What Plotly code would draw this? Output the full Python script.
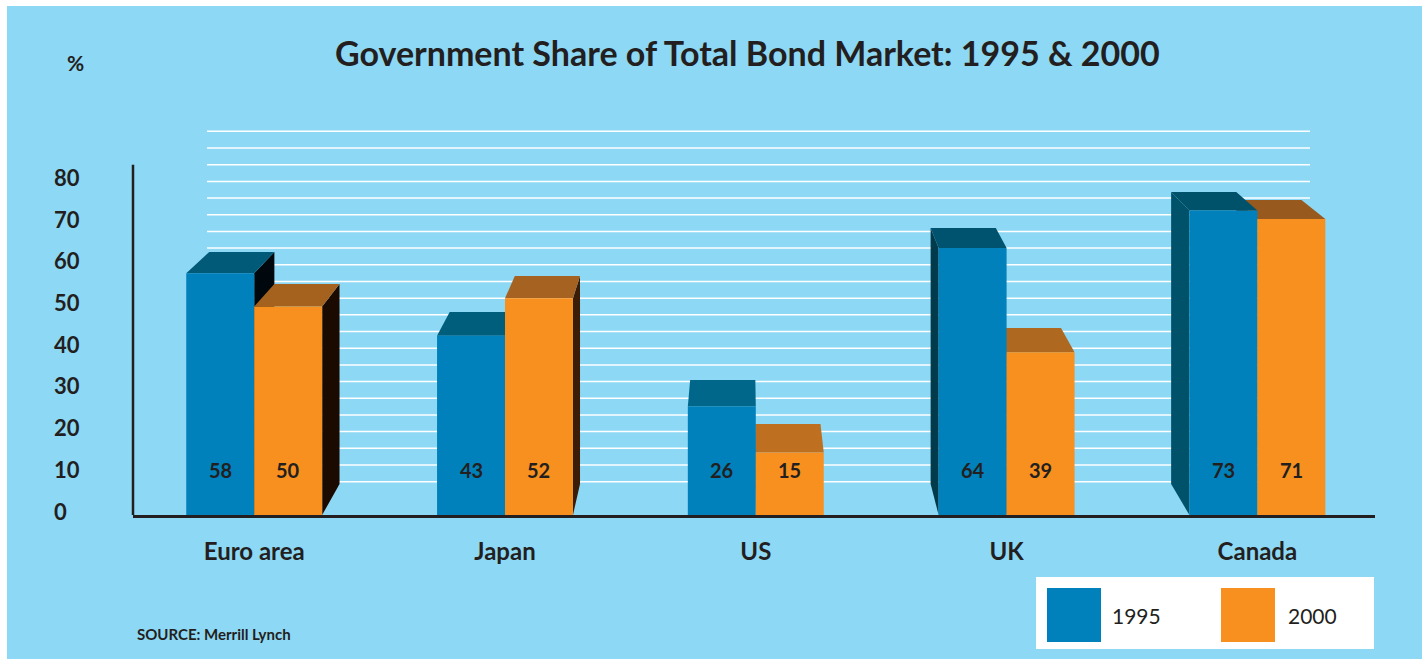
import plotly.graph_objects as go

# ---- data -------------------------------------------------------------
categories = ["Euro area", "Japan", "US", "UK", "Canada"]
share_1995 = [58, 43, 26, 64, 73]
share_2000 = [50, 52, 15, 39, 71]
series_names = ["1995", "2000"]
y_ticks = [0, 10, 20, 30, 40, 50, 60, 70, 80]

# ---- layout geometry --------------------------------------------------
W, H = 1422, 659
ML, MR, MT, MB = 133, 47, 98, 144
PW, PH = W - ML - MR, H - MT - MB
X_RANGE = [-0.4833, 4.469]
Y_RANGE = [0, 100]
BW = 0.271  # width of one bar in x units


def px(x):
    """pixel column -> paper x"""
    return (x - ML) / PW


def py(y):
    """pixel row -> paper y"""
    return (H - MB - y) / PH


# ---- colours ----------------------------------------------------------
BG = "#8DD8F5"
INK = "#231F20"
BLUE = "#0081BB"
ORANGE = "#F7901E"
blue_top = ["#005A78", "#005E7D", "#00668A", "#00536F", "#00526B"]
blue_side = ["#01080D", "#01080D", "#004A60", "#003A4B", "#00516A"]
orange_top = ["#A5621F", "#A66220", "#BE7020", "#AF6820", "#98591F"]
orange_side = ["#1B0A00", "#3B1D07", "#3B1D07", "#5A3008", "#5A3008"]

# one-point perspective for the extruded bars (in data units)
VP = (1.955, 181.3)
DEPTH = 0.0411


def back(x, y):
    return x + DEPTH * (VP[0] - x), y + DEPTH * (VP[1] - y)


def poly(points):
    return "M " + " L ".join(f"{x:.5f},{y:.5f}" for x, y in points) + " Z"


def faces(xl, v, top_col, side_col):
    """top face plus the visible side face of one extruded bar"""
    xr = xl + BW
    out = []
    if xr < VP[0]:
        pts = [(xr, v), (xr, 0), back(xr, 0), back(xr, v)]
        out.append((pts, side_col))
    elif xl > VP[0]:
        pts = [(xl, v), (xl, 0), back(xl, 0), back(xl, v)]
        out.append((pts, side_col))
    out.append(([(xl, v), (xr, v), back(xr, v), back(xl, v)], top_col))
    return out


shapes = []

# page background (with a thin white margin at top and left)
shapes.append(dict(type="rect", xref="paper", yref="paper",
                   x0=px(7), x1=px(W), y0=py(6), y1=py(H),
                   fillcolor=BG, line=dict(width=0), layer="below"))

# white horizontal rules behind the bars
for gv in range(8, 93, 4):
    shapes.append(dict(type="line", xref="paper", yref="y",
                       x0=px(207), x1=px(1310), y0=gv, y1=gv,
                       line=dict(color="white", width=1.5), layer="below"))

# extruded tops and sides, painted back to front
for i in range(len(categories)):
    xb = i - BW
    xo = i
    fb = faces(xb, share_1995[i], blue_top[i], blue_side[i])
    fo = faces(xo, share_2000[i], orange_top[i], orange_side[i])
    order = fb + fo if i < VP[0] else fo + fb
    for pts, col in order:
        shapes.append(dict(type="path", xref="x", yref="y", path=poly(pts),
                           fillcolor=col, line=dict(width=0), layer="below"))

# vertical axis line
shapes.append(dict(type="line", xref="paper", yref="y", x0=0, x1=0,
                   y0=0, y1=84, line=dict(color=INK, width=2.5)))

# legend box
shapes.append(dict(type="rect", xref="paper", yref="paper",
                   x0=px(1036), x1=px(1374), y0=py(649), y1=py(577),
                   fillcolor="white", line=dict(width=0)))
for x0, col in [(1047, BLUE), (1221, ORANGE)]:
    shapes.append(dict(type="rect", xref="paper", yref="paper",
                       x0=px(x0), x1=px(x0 + 54), y0=py(642), y1=py(588),
                       fillcolor=col, line=dict(width=0)))

# ---- traces -----------------------------------------------------------
xpos = list(range(len(categories)))
fig = go.Figure()
fig.add_trace(go.Bar(x=xpos, y=share_1995, name=series_names[0],
                     width=BW, offset=-BW, marker=dict(color=BLUE, line=dict(width=0))))
fig.add_trace(go.Bar(x=xpos, y=share_2000, name=series_names[1],
                     width=BW, offset=0, marker=dict(color=ORANGE, line=dict(width=0))))

# ---- annotations ------------------------------------------------------
ann = []
ann.append(dict(text="Government Share of Total Bond Market: 1995 & 2000",
                xref="paper", yref="paper", x=px(747), y=py(52),
                xanchor="center", yanchor="middle", showarrow=False,
                font=dict(family="Lato", size=34, color=INK, weight="bold")))
ann.append(dict(text="%", xref="paper", yref="paper", x=px(65), y=py(62),
                xanchor="left", yanchor="middle", showarrow=False,
                font=dict(family="Lato", size=21, color=INK, weight="bold")))
for t in y_ticks:
    ann.append(dict(text=str(t), xref="paper", yref="y", x=px(52), y=t,
                    xanchor="left", yanchor="middle", yshift=4, showarrow=False,
                    font=dict(family="Lato", size=22, color=INK, weight="bold")))
for i in range(len(categories)):
    for v, xc in [(share_1995[i], i - BW / 2), (share_2000[i], i + BW / 2)]:
        ann.append(dict(text=str(v), xref="x", yref="y", x=xc, y=10.8,
                        xanchor="center", yanchor="middle", showarrow=False,
                        font=dict(family="Lato", size=20, color=INK, weight="bold")))
for name, x0 in [(series_names[0], 1110), (series_names[1], 1286)]:
    ann.append(dict(text=name, xref="paper", yref="paper", x=px(x0), y=py(615),
                    xanchor="left", yanchor="middle", showarrow=False,
                    font=dict(family="Lato", size=21, color=INK)))
ann.append(dict(text="SOURCE: Merrill Lynch", xref="paper", yref="paper",
                x=px(135), y=py(634), xanchor="left", yanchor="middle",
                showarrow=False,
                font=dict(family="Lato", size=15, color=INK, weight="bold")))

fig.update_layout(
    width=W, height=H,
    margin=dict(l=ML, r=MR, t=MT, b=MB, pad=0),
    paper_bgcolor="white", plot_bgcolor="rgba(0,0,0,0)",
    showlegend=False, barmode="overlay",
    shapes=shapes, annotations=ann,
    xaxis=dict(range=X_RANGE, tickvals=xpos, ticktext=categories,
               showgrid=False, zeroline=False, ticks="",
               showline=True, linecolor=INK, linewidth=3,
               ticklabelstandoff=13,
               tickfont=dict(family="Lato", size=24, color=INK, weight="bold")),
    yaxis=dict(range=Y_RANGE, showgrid=False, zeroline=False,
               showticklabels=False, ticks="", showline=False),
)

fig.write_html("out.html")
